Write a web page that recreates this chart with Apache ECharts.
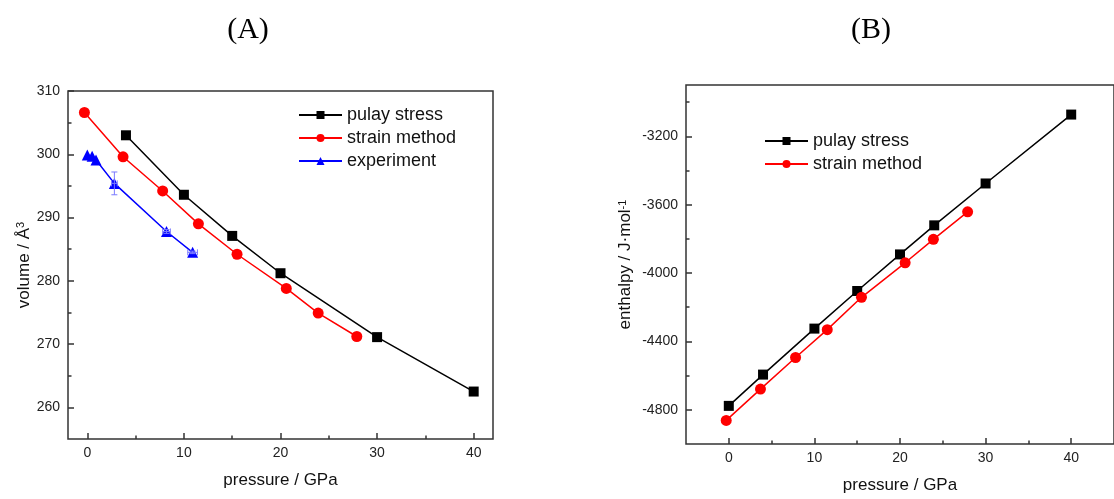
<!DOCTYPE html>
<html>
<head>
<meta charset="utf-8">
<title>volume and enthalpy vs pressure</title>
<script src="https://cdn.jsdelivr.net/npm/echarts@6/dist/echarts.min.js"></script>
<style>
  html, body { margin: 0; padding: 0; background: #fff; }
  #chart { width: 1114px; height: 499px; }
</style>
</head>
<body>
<div id="chart"></div>
<script>
// (A) volume vs pressure
const pulayPressureA = [4, 10, 15, 20, 30, 40];
const pulayVolume = [303.0, 293.6, 287.1, 281.2, 271.1, 262.5];
const strainPressure = [-0.3, 3.7, 7.8, 11.5, 15.5, 20.6, 23.9, 27.9];
const strainVolume = [306.6, 299.6, 294.2, 289.0, 284.2, 278.8, 274.9, 271.2];
const expPressure = [0, 0.5, 0.9, 2.8, 8.2, 10.9];
const expVolume = [299.9, 299.7, 299.1, 295.4, 287.8, 284.5];
const expErrPressure = [0, 0, 0, 0.3, 0.4, 0.5];
const expErrVolume = [0, 0, 0, 1.8, 0.3, 0.2];

// (B) enthalpy vs pressure
const pulayPressureB = [0, 4, 10, 15, 20, 24, 30, 40];
const pulayEnthalpy = [-4777, -4594, -4325, -4105, -3891, -3721, -3476, -3073];
const strainEnthalpy = [-4862, -4679, -4494, -4331, -4142, -3940, -3803, -3642];

// tick labels
const pressureTicks = [0, 10, 20, 30, 40];
const pressureMinor = [5, 15, 25, 35];
const volumeTicks = [260, 270, 280, 290, 300, 310];
const volumeMinor = [265, 275, 285, 295, 305];
const enthalpyTicks = [-4800, -4400, -4000, -3600, -3200];
const enthalpyMinor = [-4600, -4200, -3800, -3400, -3000];

const FONT = 'Liberation Sans, Arial, sans-serif';
const AXIS = '#333';
const ERR = '#7a7aff';

function zip(xs, ys) {
  return xs.map((x, i) => [x, ys[i]]);
}

function labelStyle(ticks, margin) {
  return {
    customValues: ticks,
    fontFamily: FONT,
    fontSize: 14,
    color: '#222',
    margin: margin,
    formatter: v => String(v)
  };
}

function majorAxis(grid, min, max, ticks, extra) {
  return Object.assign({
    type: 'value',
    gridIndex: grid,
    min: min,
    max: max,
    axisLine: { show: false, onZero: false },
    axisTick: { show: true, inside: true, length: 6, customValues: ticks, lineStyle: { color: AXIS, width: 1.5 } },
    splitLine: { show: false },
    nameTextStyle: { fontFamily: FONT, fontSize: 17, color: '#111' }
  }, extra);
}

function minorAxis(grid, min, max, ticks, position) {
  return {
    type: 'value',
    gridIndex: grid,
    position: position,
    min: min,
    max: max,
    axisLine: { show: false, onZero: false },
    axisTick: { show: true, inside: true, length: 3.5, customValues: ticks, lineStyle: { color: AXIS, width: 1.5 } },
    axisLabel: { show: false },
    splitLine: { show: false }
  };
}

function renderErrorBar(params, api) {
  const p = api.value(0), v = api.value(1), dp = api.value(2), dv = api.value(3);
  const style = { stroke: ERR, lineWidth: 1 };
  const cap = 3;
  const children = [];
  if (dv > 0) {
    const a = api.coord([p, v + dv]), b = api.coord([p, v - dv]);
    children.push({ type: 'line', shape: { x1: a[0], y1: a[1], x2: b[0], y2: b[1] }, style: style });
    children.push({ type: 'line', shape: { x1: a[0] - cap, y1: a[1], x2: a[0] + cap, y2: a[1] }, style: style });
    children.push({ type: 'line', shape: { x1: b[0] - cap, y1: b[1], x2: b[0] + cap, y2: b[1] }, style: style });
  }
  if (dp > 0) {
    const a = api.coord([p - dp, v]), b = api.coord([p + dp, v]);
    children.push({ type: 'line', shape: { x1: a[0], y1: a[1], x2: b[0], y2: b[1] }, style: style });
    children.push({ type: 'line', shape: { x1: a[0], y1: a[1] - cap, x2: a[0], y2: a[1] + cap }, style: style });
    children.push({ type: 'line', shape: { x1: b[0], y1: b[1] - cap, x2: b[0], y2: b[1] + cap }, style: style });
  }
  return { type: 'group', children: children };
}

function lineSeries(name, x, y, ax, symbol, size, color) {
  return {
    name: name,
    type: 'line',
    xAxisIndex: ax,
    yAxisIndex: ax,
    data: zip(x, y),
    symbol: symbol,
    symbolSize: size,
    lineStyle: { color: color, width: 1.5 },
    itemStyle: { color: color },
    z: 3
  };
}

const supRich = { sup: { fontFamily: FONT, fontSize: 11, color: '#111', verticalAlign: 'top' } };

const chart = echarts.init(document.getElementById('chart'), null, { renderer: 'canvas' });

chart.setOption({
  animation: false,
  backgroundColor: '#fff',
  graphic: [
    { type: 'text', x: 248, y: 30, style: { text: '(A)', fontFamily: 'Liberation Serif, Times New Roman, serif', fontSize: 30, fill: '#000', align: 'center', verticalAlign: 'middle' } },
    { type: 'text', x: 871, y: 30, style: { text: '(B)', fontFamily: 'Liberation Serif, Times New Roman, serif', fontSize: 30, fill: '#000', align: 'center', verticalAlign: 'middle' } }
  ],
  grid: [
    { left: 68, top: 91, width: 425, height: 348, show: true, borderColor: AXIS, borderWidth: 1.5, backgroundColor: 'transparent' },
    { left: 686, top: 85, width: 438, height: 359, show: true, borderColor: AXIS, borderWidth: 1.5, backgroundColor: 'transparent' }
  ],
  legend: [
    {
      data: ['pulay stress', 'strain method', 'experiment'],
      orient: 'vertical', left: 298, top: 106, padding: 0,
      itemWidth: 43, itemHeight: 10, itemGap: 5,
      textStyle: { fontFamily: FONT, fontSize: 18, color: '#111' }
    },
    {
      data: ['pulay stress', 'strain method'],
      orient: 'vertical', left: 764, top: 132, padding: 0,
      itemWidth: 43, itemHeight: 10, itemGap: 5,
      textStyle: { fontFamily: FONT, fontSize: 18, color: '#111' }
    }
  ],
  xAxis: [
    majorAxis(0, -2, 42, pressureTicks, { position: 'bottom', name: 'pressure / GPa', nameLocation: 'middle', nameGap: 33, axisLabel: labelStyle(pressureTicks, 7) }),
    minorAxis(0, -2, 42, pressureMinor, 'bottom'),
    majorAxis(1, -5, 45, pressureTicks, { position: 'bottom', name: 'pressure / GPa', nameLocation: 'middle', nameGap: 33, axisLabel: labelStyle(pressureTicks, 7) }),
    minorAxis(1, -5, 45, pressureMinor, 'bottom')
  ],
  yAxis: [
    majorAxis(0, 255, 310, volumeTicks, {
      position: 'left', name: 'volume / Å{sup|3}', nameLocation: 'middle', nameGap: 33,
      nameTextStyle: { fontFamily: FONT, fontSize: 17, color: '#111', rich: supRich },
      axisLabel: labelStyle(volumeTicks, 8)
    }),
    minorAxis(0, 255, 310, volumeMinor, 'left'),
    majorAxis(1, -5000, -2900, enthalpyTicks, {
      position: 'left', name: 'enthalpy / J·mol{sup|-1}', nameLocation: 'middle', nameGap: 52,
      nameTextStyle: { fontFamily: FONT, fontSize: 17, color: '#111', rich: supRich },
      axisLabel: labelStyle(enthalpyTicks, 8)
    }),
    minorAxis(1, -5000, -2900, enthalpyMinor, 'left')
  ],
  series: [
    lineSeries('pulay stress', pulayPressureA, pulayVolume, 0, 'rect', 10, '#000'),
    lineSeries('strain method', strainPressure, strainVolume, 0, 'circle', 11, '#ff0000'),
    lineSeries('experiment', expPressure, expVolume, 0, 'triangle', 11, '#0000ff'),
    {
      name: 'experiment error',
      type: 'custom',
      xAxisIndex: 0,
      yAxisIndex: 0,
      renderItem: renderErrorBar,
      encode: { x: 0, y: 1 },
      data: expPressure.map((p, i) => [p, expVolume[i], expErrPressure[i], expErrVolume[i]]),
      z: 4
    },
    lineSeries('pulay stress', pulayPressureB, pulayEnthalpy, 2, 'rect', 10, '#000'),
    lineSeries('strain method', strainPressure, strainEnthalpy, 2, 'circle', 11, '#ff0000')
  ]
});
</script>
</body>
</html>
